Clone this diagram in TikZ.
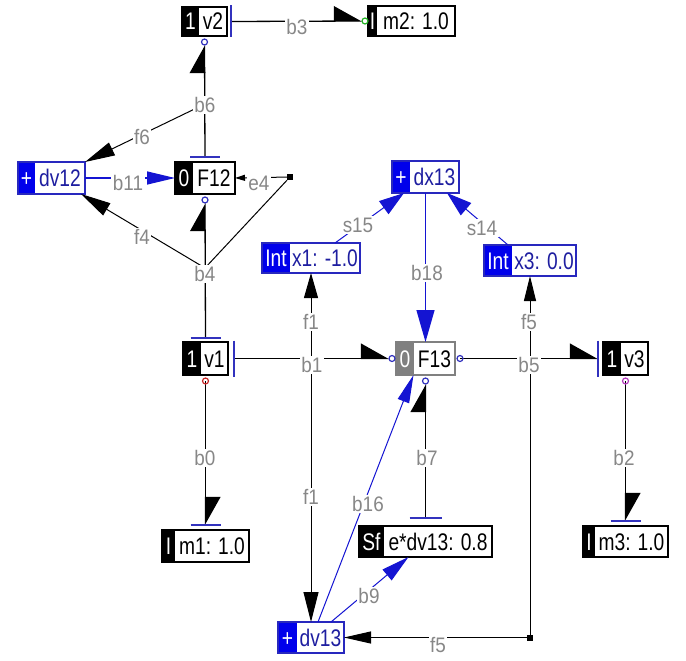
\documentclass[tikz,border=0pt]{standalone}
\usepackage{fontspec}
\setmainfont{Liberation Sans}
\usepackage{graphicx}
\usetikzlibrary{arrows.meta,calc}

% colour schemes for element boxes: k = black, b = blue, g = grey
\definecolor{kbd}{RGB}{0,0,0}\definecolor{kfl}{RGB}{0,0,0}\definecolor{ktx}{RGB}{0,0,0}
\definecolor{bbd}{RGB}{40,40,190}\definecolor{bfl}{RGB}{0,0,235}\definecolor{btx}{RGB}{30,30,160}
\definecolor{gbd}{RGB}{128,128,128}\definecolor{gfl}{RGB}{128,128,128}\definecolor{gtx}{RGB}{0,0,0}
\definecolor{lblgray}{RGB}{135,135,135}
\definecolor{bondblue}{RGB}{20,20,210}
\definecolor{strokeblue}{RGB}{50,50,190}
\definecolor{portgreen}{RGB}{40,180,40}
\definecolor{portred}{RGB}{200,40,40}
\definecolor{portmag}{RGB}{180,60,190}

\tikzset{
  boxfont/.style={font=\fontsize{24}{24}\selectfont, inner sep=0pt, text height=17pt, text depth=0pt},
  lbl/.style={text=lblgray, fill=white, inner sep=1.5pt, font=\fontsize{21}{21}\selectfont},
  bondline/.style={line width=1.3pt, draw=black},
  bluebond/.style={line width=1.3pt, draw=bondblue},
  sigline/.style={line width=1pt, draw=black},
  bluesig/.style={line width=1pt, draw=bondblue},
  halfhead/.style={-{Triangle[harpoon, length=27pt, width=30pt]}},
  cbar/.style={line width=1.3pt, draw=strokeblue},
  port/.style={line width=1.2pt, draw=#1},
  sq/.style={fill=black, minimum size=6pt, inner sep=0pt}
}

% #1 name, #2 left, #3 top, #4 split, #5 right, #6 bottom, #7 prefix, #8 text, #9 scheme
\newcommand\elembox[9]{%
  \node[inner sep=0pt, outer sep=0pt, minimum width={(#5-#2)*1pt}, minimum height={(#6-#3)*1pt}] (#1) at ({(#2+#5)/2},{(#3+#6)/2}) {};
  \fill[#9fl] (#2,#3) rectangle (#4,#6);
  \draw[#9bd, line width=1.3pt] (#2,#3) rectangle (#5,#6);
  \node[boxfont, text=white] at ({(#2+#4)/2},{(#3+#6)/2}) {\scalebox{0.8}[1]{#7}};
  \node[boxfont, text=#9tx] at ({(#4+#5)/2},{(#3+#6)/2}) {\scalebox{0.8}[1]{#8}};
}
\newcommand\lab[1]{\scalebox{0.9}[1]{#1}}

\begin{document}
\begin{tikzpicture}[x=1pt, y=-1pt]
\fill[white] (0,0) rectangle (686,661);
\useasboundingbox (0,0) rectangle (686,661);

% element boxes
\elembox{v2}{182}{7}{199}{227}{36}{1}{v2}{k}
\elembox{m2}{368}{6}{377}{455}{36}{I}{m2: 1.0}{k}
\elembox{dv12}{18}{162}{35}{85}{194}{+}{dv12}{b}
\elembox{F12}{175}{162}{193}{235}{194}{0}{F12}{k}
\elembox{dx13}{392}{161}{410}{459}{193}{+}{dx13}{b}
\elembox{x1}{262}{243}{290}{360}{273}{Int}{x1: -1.0}{b}
\elembox{x3}{484}{245}{512}{576}{276}{Int}{x3: 0.0}{b}
\elembox{v1}{183}{342}{201}{228}{375}{1}{v1}{k}
\elembox{F13}{396}{342}{414}{455}{375}{0}{F13}{g}
\elembox{v3}{603}{342}{621}{648}{375}{1}{v3}{k}
\elembox{m1}{162}{530}{175}{249}{562}{I}{m1: 1.0}{k}
\elembox{Sf}{359}{526}{384}{492}{557}{Sf}{e*dv13: 0.8}{k}
\elembox{m3}{583}{526}{595}{668}{557}{I}{m3: 1.0}{k}
\elembox{dv13}{278}{622}{297}{344}{653}{+}{dv13}{b}

% junction points on bonds and signal corners
\coordinate (j6) at (205,104);
\coordinate (j4) at (205,268);
\coordinate (j1) at (x1.south |- v1.east);
\coordinate (j5) at (x3.south |- F13.east);
\node[sq] (e4sq) at (290,177) {};
\node[sq] (c5) at (j5 |- dv13.east) {};

% power bonds
\draw[bondline, halfhead] ($(v2.east)+(4,0)$) -- ($(m2.west)+(-6,0)$);
\draw[port=portgreen] ($(m2.west)+(-3,0)$) circle (3);
\draw[cbar] ($(v2.east)+(4,-16)$) -- ++(0,32);

\draw[bondline, halfhead] ($(F12.north)+(0,-5)$) -- ($(v2.south)+(0,9)$);
\draw[port=strokeblue] ($(v2.south)+(0,6)$) circle (3);
\draw[cbar] ($(F12.north)+(-15,-5)$) -- ++(30,0);

\draw[bondline, halfhead] ($(v1.north)+(0,-4)$) -- ($(F12.south)+(0,9)$);
\draw[port=strokeblue] ($(F12.south)+(0,6)$) circle (3);
\draw[cbar] ($(v1.north)+(-15,-4)$) -- ++(30,0);

\draw[bondline, halfhead] ($(v1.east)+(6,0)$) -- ($(F13.west)+(-7,0)$);
\draw[port=strokeblue] ($(F13.west)+(-4,0)$) circle (3);
\draw[cbar] ($(v1.east)+(6,-18)$) -- ++(0,36);

\draw[bondline, halfhead] ($(F13.east)+(5,0)$) -- ($(v3.west)+(-5,0)$);
\draw[port=strokeblue] ($(F13.east)+(5,0)$) circle (3);
\draw[cbar] ($(v3.west)+(-5,-18)$) -- ++(0,36);

\draw[bondline, halfhead] ($(v1.south)+(0,6)$) -- ($(m1.north)+(0,-5)$);
\draw[port=portred] ($(v1.south)+(0,6)$) circle (3);
\draw[cbar] ($(m1.north)+(-15,-5)$) -- ++(30,0);

\draw[bondline, halfhead] ($(v3.south)+(0,6)$) -- ($(m3.north)+(0,-5)$);
\draw[port=portmag] ($(v3.south)+(0,6)$) circle (3);
\draw[cbar] ($(m3.north)+(-15,-5)$) -- ++(30,0);

\draw[bondline, halfhead] ($(Sf.north)+(0,-8)$) -- ($(F13.south)+(0,9)$);
\draw[port=strokeblue] ($(F13.south)+(0,6)$) circle (3);
\draw[cbar] ($(Sf.north)+(-16,-8)$) -- ++(32,0);

% blue bonds
\draw[bluebond, -{Triangle[length=28pt, width=13pt]}, bondblue] (dv12.east) -- (F12.west);
\draw[bluebond, -{Triangle[length=32pt, width=18pt]}, bondblue] (dx13.south) -- (F13.north);
\draw[bluesig, -{Triangle[length=28pt, width=12pt]}, bondblue] ($(dv13.north)+(7,0)$) -- ($(F13.south)+(-12,0)$);
\draw[bluesig, -{Triangle[length=28pt, width=14pt]}, bondblue] ($(dv13.north)+(20,0)$) -- ($(Sf.south)+(-17,0)$);
\draw[bluesig, -{Triangle[length=25pt, width=16pt]}, bondblue] ($(x1.north)+(24,0)$) -- ($(dx13.south west)+(12,0)$);
\draw[bluesig, -{Triangle[length=25pt, width=16pt]}, bondblue] ($(x3.north)+(-22,0)$) -- ($(dx13.south east)+(-12,0)$);

% signals
\draw[sigline, -{Triangle[length=30pt, width=14pt]}] (j6) -- (dv12.north east);
\draw[sigline, -{Triangle[length=30pt, width=14pt]}] (j4) -- ($(dv12.south east)+(-4,0)$);
\draw[sigline] (j4) -- (e4sq);
\draw[sigline, -{Triangle[length=10pt, width=6pt]}] (e4sq) -- (F12.east);
\draw[sigline, -{Triangle[length=25pt, width=14pt]}] (j1) -- (x1.south);
\draw[sigline, -{Triangle[length=30pt, width=15pt]}] (j1) -- (dv13.north);
\draw[sigline, -{Triangle[length=25pt, width=12pt]}] (j5) -- (x3.south);
\draw[sigline, -{Triangle[length=27pt, width=12pt]}] (j5) -- (c5.center) -- (dv13.east);

% labels
\node[lbl] at (297,27) {\lab{b3}};
\node[lbl] at (205,105) {\lab{b6}};
\node[lbl] at (142,137) {\lab{f6}};
\node[lbl] at (128,183) {\lab{b11}};
\node[lbl] at (259,183) {\lab{e4}};
\node[lbl] at (142,237) {\lab{f4}};
\node[lbl] at (205,274) {\lab{b4}};
\node[lbl] at (358,225) {\lab{s15}};
\node[lbl] at (482,228) {\lab{s14}};
\node[lbl] at (427,273) {\lab{b18}};
\node[lbl] at (311,322) {\lab{f1}};
\node[lbl] at (312,365) {\lab{b1}};
\node[lbl] at (529,322) {\lab{f5}};
\node[lbl] at (529,365) {\lab{b5}};
\node[lbl] at (205,458) {\lab{b0}};
\node[lbl] at (311,497) {\lab{f1}};
\node[lbl] at (368,504) {\lab{b16}};
\node[lbl] at (427,458) {\lab{b7}};
\node[lbl] at (624,458) {\lab{b2}};
\node[lbl] at (369,596) {\lab{b9}};
\node[lbl] at (438,645) {\lab{f5}};
\end{tikzpicture}
\end{document}
